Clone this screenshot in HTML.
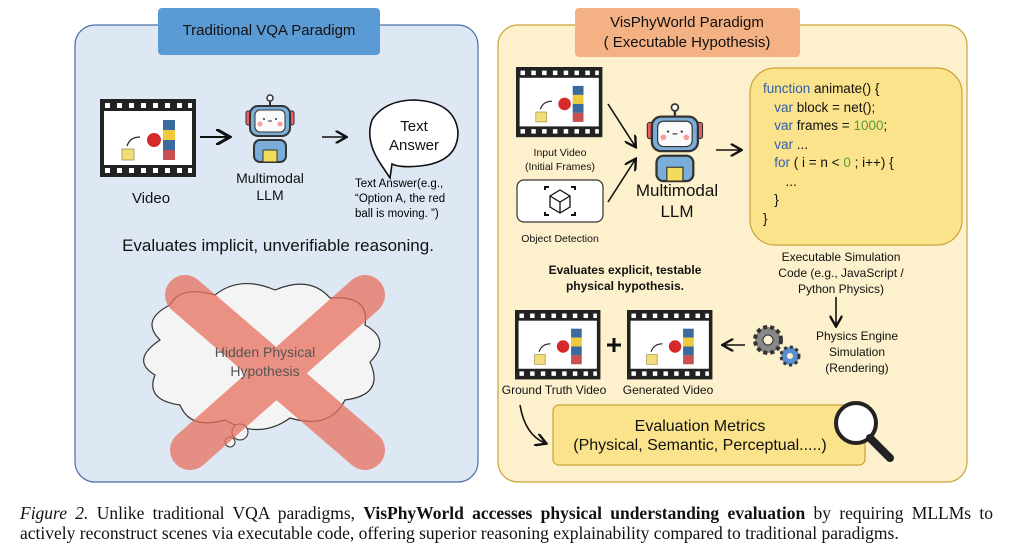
<!DOCTYPE html>
<html><head><meta charset="utf-8"><style>
body{margin:0;width:1027px;height:555px;background:#fff;overflow:hidden;font-family:"Liberation Sans",sans-serif}
.t{position:absolute;white-space:nowrap;transform:translateX(-50%);text-align:center;color:#111}
.code{position:absolute;left:763px;top:80px;font-size:13.5px;line-height:18.5px;color:#111;white-space:pre;font-family:"Liberation Sans",sans-serif}
.b{color:#2f5fa8}.g{color:#5a9a3a}
.cap{position:absolute;left:20px;font-family:"Liberation Serif",serif;font-size:17.5px;line-height:20px;color:#111;white-space:nowrap}
</style></head><body>
<svg width="1027" height="555" style="position:absolute;left:0;top:0">
<defs>
<marker id="a" markerWidth="8" markerHeight="8" refX="6" refY="4" orient="auto"><path d="M0,0 L7,4 L0,8" fill="none" stroke="#111" stroke-width="1.5"/></marker>
<g id="film">
<rect x="0" y="0" width="96" height="78" fill="#222"/>
<rect x="4" y="12" width="88" height="54" fill="#fff"/>
<g fill="#fff"><rect x="5" y="4" width="5" height="5"/><rect x="17" y="4" width="5" height="5"/><rect x="29" y="4" width="5" height="5"/><rect x="41" y="4" width="5" height="5"/><rect x="53" y="4" width="5" height="5"/><rect x="65" y="4" width="5" height="5"/><rect x="77" y="4" width="5" height="5"/><rect x="88" y="4" width="4" height="5"/>
<rect x="5" y="69" width="5" height="5"/><rect x="17" y="69" width="5" height="5"/><rect x="29" y="69" width="5" height="5"/><rect x="41" y="69" width="5" height="5"/><rect x="53" y="69" width="5" height="5"/><rect x="65" y="69" width="5" height="5"/><rect x="77" y="69" width="5" height="5"/><rect x="88" y="69" width="4" height="5"/></g>
<rect x="22" y="50" width="12" height="11" fill="#f3dc7a" stroke="#a89040" stroke-width=".8"/>
<circle cx="54" cy="41" r="7" fill="#d42a2a"/>
<path d="M27 47 Q30 38 40 38" fill="none" stroke="#222" stroke-width="1.2"/>
<rect x="63" y="21" width="12" height="10" fill="#3a6aa0"/><rect x="63" y="31" width="12" height="10" fill="#f0c93c"/><rect x="63" y="41" width="12" height="10" fill="#3a6aa0"/><rect x="63" y="51" width="12" height="10" fill="#c85050"/>
</g>
<g id="robot">
<line x1="26" y1="4" x2="26" y2="12" stroke="#333" stroke-width="2"/><circle cx="26" cy="3" r="3" fill="#fff" stroke="#333" stroke-width="1.5"/>
<rect x="2" y="16" width="6" height="14" rx="2" fill="#e86060" stroke="#333"/><rect x="44" y="16" width="6" height="14" rx="2" fill="#e86060" stroke="#333"/>
<rect x="6" y="11" width="40" height="30" rx="8" fill="#7aaed8" stroke="#333" stroke-width="2"/>
<rect x="11" y="15" width="30" height="22" rx="5" fill="#fafafa" stroke="#333"/>
<circle cx="16" cy="29" r="2.5" fill="#f3a0a0"/><circle cx="36" cy="29" r="2.5" fill="#f3a0a0"/>
<line x1="19" y1="24" x2="21" y2="24" stroke="#333" stroke-width="1.5"/><line x1="31" y1="24" x2="33" y2="24" stroke="#333" stroke-width="1.5"/><line x1="24" y1="26" x2="28" y2="26" stroke="#333"/>
<rect x="10" y="45" width="32" height="22" rx="6" fill="#7aaed8" stroke="#333" stroke-width="2"/>
<rect x="19" y="55" width="14" height="12" fill="#f3dc5a" stroke="#333"/>
</g>
</defs>
<rect x="75" y="25" width="403" height="457" rx="20" fill="#dde8f4" stroke="#4a6fa5" stroke-width="1.2"/>
<rect x="158" y="8" width="222" height="47" rx="4" fill="#5b9bd5"/>
<use href="#film" x="100" y="99"/>
<line x1="200" y1="137" x2="228" y2="137" stroke="#111" stroke-width="2" marker-end="url(#a)"/>
<use href="#robot" x="244" y="95"/>
<line x1="322" y1="137" x2="345" y2="137" stroke="#111" stroke-width="1.6" marker-end="url(#a)"/>
<path d="M380 163 Q365 140 372 120 Q385 100 415 100 Q455 102 458 132 Q458 162 420 166 Q400 168 392 164 L390 178 Z" fill="#fff" stroke="#111" stroke-width="1.6"/>
<path d="M160 340 Q140 320 170 305 Q180 285 215 295 Q240 275 275 290 Q310 275 330 298 Q370 295 365 325 Q392 340 370 362 Q385 395 345 400 Q330 430 290 418 Q260 440 225 420 Q190 430 180 405 Q145 400 155 375 Q130 360 160 340 Z" fill="#f4f4f4" stroke="#333" stroke-width="1.2"/>
<circle cx="240" cy="432" r="8" fill="#f4f4f4" stroke="#333"/><circle cx="230" cy="442" r="5" fill="#f4f4f4" stroke="#333"/>
<g stroke="#e8705e" stroke-width="40" stroke-linecap="round" opacity=".75"><line x1="185" y1="295" x2="365" y2="450"/><line x1="365" y1="295" x2="190" y2="450"/></g>
<rect x="498" y="25" width="469" height="457" rx="20" fill="#fdf1cd" stroke="#c9a338" stroke-width="1.2"/>
<rect x="575" y="8" width="225" height="49" rx="4" fill="#f4b183"/>
<use href="#film" transform="translate(516,67) scale(0.9)"/>
<rect x="517" y="180" width="86" height="42" rx="7" fill="#fff" stroke="#333" stroke-width="1.2"/>
<g transform="translate(560,201)" stroke="#111" fill="none" stroke-width="1.3"><path d="M0,-11 L10,-5 L10,6 L0,12 L-10,6 L-10,-5 Z M-10,-5 L0,1 L10,-5 M0,1 L0,12"/><path d="M-15,-11 v-3 h4 M15,-11 v-3 h-4 M-15,11 v3 h4 M15,11 v3 h-4" stroke-width="2"/></g>
<line x1="608" y1="104" x2="635" y2="146" stroke="#111" stroke-width="1.6" marker-end="url(#a)"/>
<line x1="608" y1="202" x2="635" y2="160" stroke="#111" stroke-width="1.6" marker-end="url(#a)"/>
<use href="#robot" transform="translate(645,104) scale(1.15)"/>
<line x1="716" y1="150" x2="740" y2="150" stroke="#111" stroke-width="1.6" marker-end="url(#a)"/>
<rect x="750" y="68" width="212" height="177" rx="25" fill="#fbe38c" stroke="#c9a338" stroke-width="1.2"/>
<line x1="836" y1="297" x2="836" y2="325" stroke="#111" stroke-width="1.6" marker-end="url(#a)"/>
<g transform="translate(768,340)"><circle r="13" fill="#888" stroke="#333" stroke-width="4" stroke-dasharray="4 3"/><circle r="5" fill="#fdf1cd" stroke="#333"/></g>
<g transform="translate(790,356)"><circle r="9" fill="#5b8fd0" stroke="#333" stroke-width="3" stroke-dasharray="3 3"/><circle r="3" fill="#fdf1cd"/></g>
<line x1="745" y1="345" x2="724" y2="345" stroke="#111" stroke-width="1.6" marker-end="url(#a)"/>
<use href="#film" transform="translate(627,310) scale(0.89)"/>
<use href="#film" transform="translate(515,310) scale(0.89)"/>
<path d="M607 345 h14 M614 338 v14" stroke="#111" stroke-width="3"/>
<rect x="553" y="405" width="312" height="60" rx="6" fill="#fbe38c" stroke="#c9a338" stroke-width="1.2"/>
<circle cx="856" cy="423" r="20" fill="#fff" stroke="#222" stroke-width="4"/>
<line x1="870" y1="438" x2="890" y2="458" stroke="#222" stroke-width="8" stroke-linecap="round"/>
<path d="M520 405 Q525 435 545 443" fill="none" stroke="#111" stroke-width="1.6" marker-end="url(#a)"/>
</svg>
<div class="t" style="left:269px;top:22px;font-size:15px">Traditional VQA Paradigm</div>
<div class="t" style="left:687px;top:13px;font-size:15px;line-height:20px">VisPhyWorld Paradigm<br>( Executable Hypothesis)</div>
<div class="t" style="left:151px;top:190px;font-size:15px">Video</div>
<div class="t" style="left:270px;top:170px;font-size:14px;line-height:17px">Multimodal<br>LLM</div>
<div class="t" style="left:414px;top:117px;font-size:15px;line-height:19px">Text<br>Answer</div>
<div style="position:absolute;left:355px;top:177px;font-size:11.5px;line-height:15px">Text Answer(e.g.,<br>“Option A, the red<br>ball is moving. ”)</div>
<div class="t" style="left:278px;top:236px;font-size:17px">Evaluates implicit, unverifiable reasoning.</div>
<div class="t" style="left:265px;top:343px;font-size:14px;line-height:19px;color:#555">Hidden Physical<br>Hypothesis</div>
<div class="t" style="left:560px;top:146px;font-size:10.5px;line-height:14px">Input Video<br>(Initial Frames)</div>
<div class="t" style="left:560px;top:233px;font-size:10.5px">Object Detection</div>
<div class="t" style="left:677px;top:180px;font-size:17px;line-height:21px">Multimodal<br>LLM</div>
<div class="code"><span class="b">function</span> animate() {
   <span class="b">var</span> block = net();
   <span class="b">var</span> frames = <span class="g">1000</span>;
   <span class="b">var</span> ...
   <span class="b">for</span> ( i = n &lt; <span class="g">0</span> ; i++) {
      ...
   }
}</div>
<div class="t" style="left:625px;top:262px;font-size:12px;line-height:16px;font-weight:bold">Evaluates explicit, testable<br>physical hypothesis.</div>
<div class="t" style="left:841px;top:249px;font-size:12px;line-height:16px">Executable Simulation<br>Code (e.g., JavaScript /<br>Python Physics)</div>
<div class="t" style="left:857px;top:328px;font-size:12px;line-height:16px">Physics Engine<br>Simulation<br>(Rendering)</div>
<div class="t" style="left:554px;top:383px;font-size:12px">Ground Truth Video</div>
<div class="t" style="left:668px;top:383px;font-size:12px">Generated Video</div>
<div class="t" style="left:700px;top:417px;font-size:16px;line-height:19px">Evaluation Metrics<br>(Physical, Semantic, Perceptual.....)</div>
<div class="cap" style="top:503px;width:973px;text-align:justify;text-align-last:justify;white-space:normal"><i>Figure 2.</i> Unlike traditional VQA paradigms, <b>VisPhyWorld accesses physical understanding evaluation</b> by requiring MLLMs to</div>
<div class="cap" style="top:523px">actively reconstruct scenes via executable code, offering superior reasoning explainability compared to traditional paradigms.</div>
</body></html>
